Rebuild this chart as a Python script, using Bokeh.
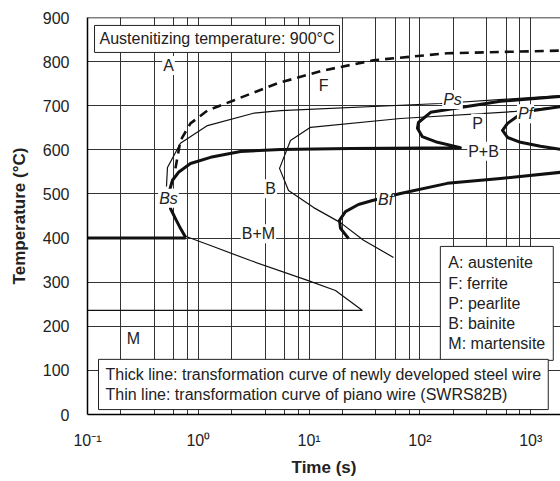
from bokeh.plotting import figure
from bokeh.models import FixedTicker, Label, Span, Range1d
from bokeh.embed import file_html
from bokeh.resources import INLINE

FONT = "Liberation Sans"

# ---------------- data (time in s, temperature in degC) ----------------
# Thick dashed line (ferrite start, newly developed steel wire)
dash_t = [0.622, 0.69, 0.85, 1.21, 2.08, 5.19, 13.5, 38, 177, 1858]
dash_T = [558, 621, 660, 689, 712, 751, 780, 803, 819, 825]

# Thick Ms line
thick_ms_t = [0.1, 0.77]
thick_ms_T = [400, 400]

# Thick Bs -> 600 plateau -> P+B -> Ps nose -> Ps
thick_bs_t = [0.77, 0.69, 0.622, 0.561, 0.55, 0.585, 0.663, 0.85, 1.29, 2.40,
              5.52, 23.7, 232, 144, 105, 95, 97, 125, 232, 533, 1858]
thick_bs_T = [401, 422, 444, 467, 508, 531, 549, 569, 583, 596,
              601, 603, 605, 617, 630, 649, 662, 685, 696, 710, 721]

# Thick Bf
thick_bf_t = [22.7, 19.2, 18.8, 21.3, 27.9, 37.3, 66.8, 177, 533, 1858]
thick_bf_T = [399, 422, 440, 460, 476, 485, 501, 524, 535, 549]

# Thick Pf
thick_pf_t = [1858, 1059, 776, 618, 557, 618, 809, 1225, 1858]
thick_pf_T = [698, 689, 678, 660, 644, 628, 617, 608, 601]

# Thin: ferrite / pearlite start of piano wire
thin_ps_t = [0.516, 0.527, 0.69, 1.21, 3.15, 5.52, 153, 1858]
thin_ps_T = [517, 560, 615, 655, 683, 689, 705, 723]

# Thin: bainite curve + pearlite finish of piano wire
thin_b_t = [57.8, 31.0, 19.2, 11.0, 6.52, 5.41, 6.79, 10.3, 66.8, 730, 1858]
thin_b_T = [356, 395, 435, 469, 508, 558, 621, 651, 671, 687, 698]

# Thin: lower (B+M) curve and Ms line of piano wire
thin_low_t = [0.766, 1.29, 2.96, 9.68, 17.3, 30.3, 0.1]
thin_low_T = [404, 383, 349, 304, 281, 236, 236]

# Region labels
region_text = ["A", "F", "P", "P+B", "B", "B+M", "M"]
region_t = [0.538, 13.5, 331, 375, 4.49, 3.49, 0.26]
region_T = [791, 746, 660, 597, 512, 410, 172]

# Point labels (italic)
point_text = ["Ps", "Pf", "Bs", "Bf"]
point_t = [197, 897, 0.538, 49]
point_T = [714, 682, 490, 488]

x_ticks = [0.1, 1, 10, 100, 1000]
x_tick_labels = ["10\u207b\u00b9", "10\u2070", "10\u00b9", "10\u00b2", "10\u00b3"]
y_ticks = [0, 100, 200, 300, 400, 500, 600, 700, 800, 900]

legend_lines = ["A: austenite", "F: ferrite", "P: pearlite", "B: bainite", "M: martensite"]
note_lines = ["Thick line: transformation curve of newly developed steel wire",
              "Thin line: transformation curve of piano wire (SWRS82B)"]
header_text = "Austenitizing temperature: 900\u00b0C"

# ---------------- figure ----------------
p = figure(width=560, height=481, x_axis_type="log",
           x_range=Range1d(0.1, 1858), y_range=Range1d(0, 900),
           output_backend="svg", toolbar_location=None,
           min_border_left=87, min_border_right=0, min_border_top=17,
           min_border_bottom=67)
p.outline_line_color = None
p.background_fill_color = "white"

grid_x = []
for d in [0.1, 1, 10, 100, 1000]:
    for m in [2, 4, 6, 8, 10]:
        grid_x.append(round(d * m, 6))
p.xgrid.ticker = FixedTicker(ticks=grid_x)
p.ygrid.ticker = FixedTicker(ticks=y_ticks[1:])
for g in (p.xgrid, p.ygrid):
    g.grid_line_color = "#333333"
    g.grid_line_width = 1
    g.grid_line_alpha = 1.0

p.xaxis.ticker = FixedTicker(ticks=x_ticks)
p.xaxis.major_label_overrides = {t: l for t, l in zip(x_ticks, x_tick_labels)}
p.yaxis.ticker = FixedTicker(ticks=y_ticks)
for ax in (p.xaxis, p.yaxis):
    ax.major_tick_line_color = None
    ax.minor_tick_line_color = None
    ax.axis_line_color = "black"
    ax.axis_line_width = 1.5
    ax.major_label_text_font = FONT
    ax.major_label_text_font_size = "16px"
    ax.major_label_text_color = "#222222"
    ax.axis_label_text_font = FONT
    ax.axis_label_text_font_size = "17px"
    ax.axis_label_text_font_style = "bold"
    ax.axis_label_text_color = "#222222"
p.xaxis.axis_label = "Time (s)"
p.yaxis.axis_label = "Temperature (\u00b0C)"
p.yaxis.major_label_standoff = 12
p.xaxis.major_label_standoff = 11
p.yaxis.axis_label_standoff = 11
p.xaxis.axis_label_standoff = 6

p.add_layout(Span(location=900, dimension="width", line_color="black", line_width=1.5))

# ---------------- curves ----------------
p.line(dash_t, dash_T, line_color="#111111", line_width=2.6, line_dash="9 6")
thick = dict(line_color="#111111", line_width=3, line_join="round")
p.line(thick_ms_t, thick_ms_T, **thick)
p.line(thick_bs_t, thick_bs_T, **thick)
p.line(thick_bf_t, thick_bf_T, **thick)
p.line(thick_pf_t, thick_pf_T, **thick)
thin = dict(line_color="#111111", line_width=1.2)
p.line(thin_ps_t, thin_ps_T, **thin)
p.line(thin_b_t, thin_b_T, **thin)
p.line(thin_low_t, thin_low_T, **thin)

# ---------------- labels ----------------
for txt, t, T in zip(region_text, region_t, region_T):
    p.add_layout(Label(x=t, y=T, text=txt, text_font=FONT, text_font_size="16px",
                       text_color="#222222", text_align="center",
                       text_baseline="middle", background_fill_color="white",
                       padding=1))
for txt, t, T in zip(point_text, point_t, point_T):
    p.add_layout(Label(x=t, y=T, text=txt, text_font=FONT, text_font_size="16px",
                       text_font_style="italic", text_color="#222222",
                       text_align="center", text_baseline="middle",
                       background_fill_color="white", padding=1))

box_style = dict(text_font=FONT, text_font_size="16px", text_color="#222222",
                 background_fill_color="white", border_line_color="#222222",
                 border_line_width=1, text_align="left", text_baseline="top")
p.add_layout(Label(x=0.1157, y=882, text=header_text, anchor="top_left",
                   padding=5, **box_style))
p.add_layout(Label(x=153, y=381, text="\n".join(legend_lines), anchor="top_left",
                   padding=8, text_line_height=1.19, **box_style))
p.add_layout(Label(x=0.1257, y=125, text="\n".join(note_lines), anchor="top_left",
                   padding=7, text_line_height=1.13, **box_style))

open("out.html", "w").write(file_html(p, INLINE))
